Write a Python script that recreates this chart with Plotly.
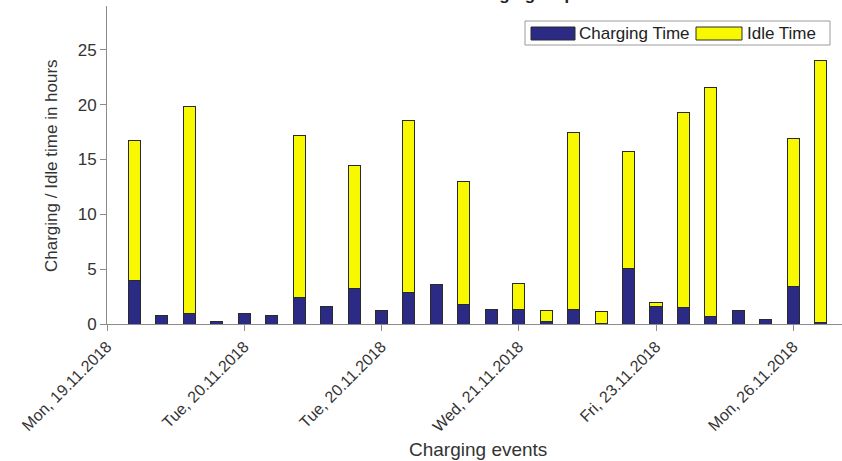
import plotly.graph_objects as go

# Charging events (one bar per event) and their durations in hours
events = list(range(1, 27))
charging = [4.0, 0.82, 0.95, 0.25, 0.94, 0.76, 2.4, 1.64, 3.2, 1.19,
            2.86, 3.62, 1.79, 1.28, 1.28, 0.24, 1.28, 0.06, 5.08, 1.58,
            1.52, 0.64, 1.25, 0.43, 3.41, 0.1]
idle = [12.7, None, 18.88, None, None, None, 14.8, None, 11.3, None,
        15.69, None, 11.21, None, 2.43, 0.98, 16.17, 1.1, 10.67, 0.4,
        17.76, 20.96, None, None, 13.47, 23.9]

tick_pos = [0, 5, 10, 15, 20, 25]
tick_labels = ["Mon, 19.11.2018", "Tue, 20.11.2018", "Tue, 20.11.2018",
               "Wed, 21.11.2018", "Fri, 23.11.2018", "Mon, 26.11.2018"]

NAVY = "#2B2B86"
YELLOW = "#F8F800"
EDGE = "#2a2a2a"
FONT = "Liberation Sans, Arial, sans-serif"

W, H = 842, 461
ML, MR, MT, MB = 107, 0, 6, 137
plot_w = W - ML - MR
plot_h = H - MT - MB


def px(x):
    return (x - ML) / plot_w


def py(y):
    return (H - MB - y) / plot_h


fig = go.Figure()
fig.add_trace(go.Bar(x=events, y=charging, name="Charging Time", width=0.44,
                     marker=dict(color=NAVY, line=dict(color=EDGE, width=1)),
                     showlegend=False))
fig.add_trace(go.Bar(x=events, y=idle, name="Idle Time", width=0.44,
                     marker=dict(color=YELLOW, line=dict(color=EDGE, width=1)),
                     showlegend=False))

axis_common = dict(showgrid=False, zeroline=False, showline=True,
                   linecolor="#8c8c8c", linewidth=1, ticks="outside",
                   tickcolor="#8c8c8c", ticklen=6)

fig.update_xaxes(range=[0, plot_w / 27.45], tickmode="array",
                 tickvals=tick_pos, ticktext=tick_labels, tickangle=-45,
                 tickfont=dict(family=FONT, size=16, color="#333333"),
                 **axis_common)
fig.update_yaxes(range=[0, 29], tickmode="array",
                 tickvals=[0, 5, 10, 15, 20, 25],
                 tickfont=dict(family=FONT, size=17, color="#333333"),
                 **axis_common)

shapes = []
annotations = []

# legend box with wide swatches
shapes.append(dict(type="rect", xref="paper", yref="paper",
                   x0=px(525), x1=px(830), y0=py(45), y1=py(21),
                   line=dict(color="#9a9a9a", width=1), fillcolor="white"))
shapes.append(dict(type="rect", xref="paper", yref="paper",
                   x0=px(531), x1=px(575), y0=py(40), y1=py(27),
                   line=dict(color=EDGE, width=1), fillcolor=NAVY))
shapes.append(dict(type="rect", xref="paper", yref="paper",
                   x0=px(696), x1=px(742), y0=py(40), y1=py(27),
                   line=dict(color=EDGE, width=1), fillcolor=YELLOW))
annotations.append(dict(text="Charging Time", xref="paper", yref="paper",
                        x=px(577), y=py(33.5), xanchor="left", yanchor="middle",
                        showarrow=False,
                        font=dict(family=FONT, size=17, color="#222222")))
annotations.append(dict(text="Idle Time", xref="paper", yref="paper",
                        x=px(745), y=py(33.5), xanchor="left", yanchor="middle",
                        showarrow=False,
                        font=dict(family=FONT, size=17, color="#222222")))

# axis titles
annotations.append(dict(text="Charging / Idle time in hours", xref="paper",
                        yref="paper", x=px(51), y=py(165), textangle=-90,
                        xanchor="center", yanchor="middle", showarrow=False,
                        font=dict(family=FONT, size=17, color="#333333")))
annotations.append(dict(text="Charging events", xref="paper", yref="paper",
                        x=px(478), y=py(449), xanchor="center",
                        yanchor="middle", showarrow=False,
                        font=dict(family=FONT, size=19, color="#333333")))

# chart title sitting at the very top edge
annotations.append(dict(text="<b>Overview of the charging sequence</b>",
                        xref="paper", yref="paper", x=px(475), y=py(6),
                        xanchor="center", yanchor="bottom", showarrow=False,
                        font=dict(family=FONT, size=17, color="#222222")))

fig.update_layout(width=W, height=H, barmode="stack",
                  margin=dict(l=ML, r=MR, t=MT, b=MB, pad=0),
                  plot_bgcolor="white", paper_bgcolor="white",
                  shapes=shapes, annotations=annotations, showlegend=False)

fig.write_html("out.html")
